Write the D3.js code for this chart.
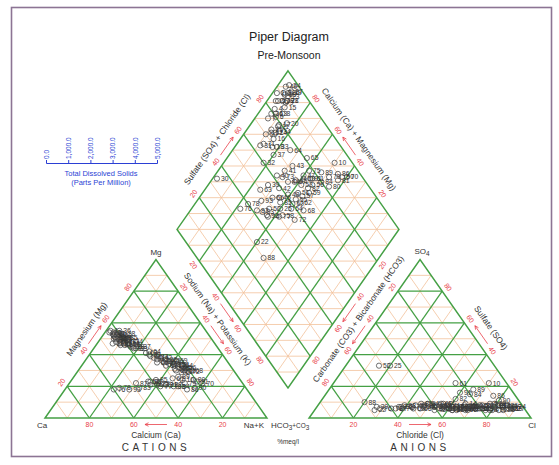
<!DOCTYPE html>
<html>
<head>
<meta charset="utf-8">
<script src="https://cdn.jsdelivr.net/npm/d3@7"></script>
<style>
  body { margin: 0; background: #fff; }
  svg { display: block; font-family: Arial, "Liberation Sans", sans-serif; }
</style>
</head>
<body>
<svg id="chart" width="559" height="465"></svg>
<script>
// Sample numbers and their ionic compositions (% meq/l).
// Calcium and chloride are the remainders of each 100% closure.
const sampleIds = [
  49, 19, 21, 50, 71, 30, 1, 2, 3, 4, 5, 6, 7, 8, 9, 11, 12, 13, 14, 15,
  16, 17, 18, 20, 23, 24, 26, 27, 28, 29, 31, 32, 33, 34, 35, 36, 37, 38,
  75, 68, 39, 40, 41, 42, 43, 44, 45, 46, 47, 48, 51, 53, 54, 55, 56, 57,
  58, 59, 60, 62, 63, 64, 65, 66, 67, 69, 72, 73,
  70, 80, 76, 22, 88, 52, 25, 61, 10, 74, 77, 78, 79, 81, 82, 83, 84, 85,
  86, 87, 89, 90, 91, 92, 93
];
const magnesium = [
  53, 51, 50, 48, 47, 54, 55, 54, 53, 53, 52, 51, 50, 50, 49, 49, 48, 48, 47, 47,
  46, 46, 45, 45, 52, 52, 50, 50, 53, 47, 46, 44, 44, 48, 51, 55, 45, 51,
  34, 30, 40, 39, 38, 38, 37, 36, 36, 35, 35, 34, 34, 33, 33, 32, 32, 31,
  31, 30, 30, 29, 41, 42, 37, 35, 33, 36, 29, 39,
  22, 24, 18, 21, 20, 23, 22, 25, 24, 21, 20, 19, 22, 23, 21, 19, 20, 24,
  18, 22, 26, 19, 21, 23, 18
];
const sodiumPotassium = [
  4, 8, 9, 10, 12, 2, 2, 4, 5, 6, 5, 9, 6, 11, 9, 13, 12, 8, 14, 10,
  15, 13, 17, 16, 8, 5, 7, 8, 9, 7, 11, 18, 19, 15, 11, 6, 20, 6,
  41, 51, 27, 28, 30, 33, 32, 35, 38, 36, 40, 39, 43, 42, 45, 44, 47, 46,
  43, 48, 44, 47, 25, 26, 36, 33, 38, 41, 50, 31,
  60, 55, 22, 40, 48, 35, 40, 45, 50, 37, 42, 24, 52, 57, 46, 33, 50, 38,
  55, 30, 47, 58, 44, 36, 29
];
const sulfate = [
  7, 6, 8, 7, 6, 7, 5, 6, 8, 5, 9, 6, 7, 5, 8, 6, 7, 6, 9, 7,
  6, 8, 5, 7, 6, 7, 8, 6, 5, 9, 6, 7, 6, 7, 8, 6, 5, 7,
  6, 8, 7, 6, 8, 5, 7, 9, 6, 7, 5, 8, 6, 7, 9, 6, 7, 5,
  8, 6, 7, 9, 6, 7, 8, 6, 7, 5, 8, 7,
  6, 8, 6, 5, 10, 33, 33, 22, 22, 6, 7, 6, 5, 8, 12, 7, 15, 9,
  14, 6, 18, 11, 16, 7, 8
];
const bicarbonate = [
  6, 6, 10, 30, 34, 66, 12, 15, 9, 18, 14, 20, 24, 16, 11, 22, 27, 19, 25, 13,
  28, 21, 31, 17, 8, 4, 7, 5, 10, 12, 36, 40, 29, 23, 26, 21, 33, 9,
  22, 37, 45, 38, 33, 41, 28, 35, 31, 44, 26, 39, 34, 30, 42, 37, 25, 33,
  48, 29, 40, 36, 50, 24, 19, 47, 32, 27, 44, 36,
  7, 18, 65, 68, 70, 52, 47, 23, 8, 55, 50, 60, 15, 12, 28, 56, 20, 45,
  10, 58, 17, 9, 24, 55, 53
];
const percentTicks = [20, 40, 60, 80];
const tdsTicks = [0, 1000, 2000, 3000, 4000, 5000];

// Layout: unit-side ternary space, two triangles separated by a gap,
// squeezed vertically into the available height.
const GAP = 0.19;
const H = Math.sqrt(3) / 2;
const X = d3.scaleLinear().domain([0, 2 + GAP]).range([45, 531]);
const Y = d3.scaleLinear().domain([0, H]).range([418, 259.5]);

const GREEN = "#45a045", ORANGE = "#f3c29a", RED = "#e8404a", BLUE = "#2b3fd4", INK = "#333";

const svg = d3.select("#chart");
svg.append("rect").attr("x", 11.5).attr("y", 7.5).attr("width", 540).attr("height", 449)
  .attr("fill", "#fff").attr("stroke", "#8c7494").attr("stroke-width", 1.6);

const lerp = (a, b, t) => [a[0] + (b[0] - a[0]) * t, a[1] + (b[1] - a[1]) * t];
const px = u => [X(u[0]), Y(u[1])];

const cat = { ca: [0, 0], nak: [1, 0], mg: [0.5, H] };
const an = { hco3: [1 + GAP, 0], cl: [2 + GAP, 0], so4: [1.5 + GAP, H] };
const dm = {
  top: [1 + GAP / 2, 2 * H + GAP * H], left: [0.5 + GAP / 2, H + GAP * H],
  right: [1.5 + GAP / 2, H + GAP * H], bottom: [1 + GAP / 2, GAP * H]
};

const gridOrange = [], gridGreen = [];
function triangleGrid(A, B, C) {
  for (let k = 1; k <= 9; k++) {
    const f = k / 10, dest = k % 2 ? gridOrange : gridGreen;
    dest.push([lerp(A, C, f), lerp(B, C, f)]);
    dest.push([lerp(A, B, f), lerp(B, C, 1 - f)]);
    dest.push([lerp(A, B, f), lerp(A, C, f)]);
  }
}
triangleGrid(cat.ca, cat.nak, cat.mg);
triangleGrid(an.hco3, an.cl, an.so4);
for (let k = 1; k <= 9; k++) {
  const f = k / 10, dest = k % 2 ? gridOrange : gridGreen;
  dest.push([lerp(dm.top, dm.right, f), lerp(dm.left, dm.bottom, f)]);
  dest.push([lerp(dm.top, dm.left, f), lerp(dm.right, dm.bottom, f)]);
}
for (let k = 1; k <= 19; k++) {
  const t = k / 10;
  if (t <= 1) gridOrange.push([lerp(dm.bottom, dm.left, t), lerp(dm.bottom, dm.right, t)]);
  else gridOrange.push([lerp(dm.left, dm.top, t - 1), lerp(dm.right, dm.top, t - 1)]);
}

const gl = svg.append("g");
gl.selectAll(".o").data(gridOrange).join("line")
  .attr("x1", d => X(d[0][0])).attr("y1", d => Y(d[0][1]))
  .attr("x2", d => X(d[1][0])).attr("y2", d => Y(d[1][1]))
  .attr("stroke", ORANGE).attr("stroke-width", 0.8);
gl.selectAll(".g").data(gridGreen).join("line")
  .attr("x1", d => X(d[0][0])).attr("y1", d => Y(d[0][1]))
  .attr("x2", d => X(d[1][0])).attr("y2", d => Y(d[1][1]))
  .attr("stroke", GREEN).attr("stroke-width", 1.3);

const outline = d3.line().x(d => X(d[0])).y(d => Y(d[1]));
[[cat.ca, cat.nak, cat.mg], [an.hco3, an.cl, an.so4], [dm.top, dm.right, dm.bottom, dm.left]]
  .forEach(poly => gl.append("path").attr("d", outline(poly) + "Z")
    .attr("fill", "none").attr("stroke", GREEN).attr("stroke-width", 1.5));

// Edge decorations: percentage labels, direction arrow, axis title
function edge(p0u, p1u, inside, opt) {
  const p0 = px(p0u), p1 = px(p1u), c = px(inside);
  const len = Math.hypot(p1[0] - p0[0], p1[1] - p0[1]);
  const d = [(p1[0] - p0[0]) / len, (p1[1] - p0[1]) / len];
  let n = [-d[1], d[0]];
  const mid = [(p0[0] + p1[0]) / 2, (p0[1] + p1[1]) / 2];
  if (n[0] * (mid[0] - c[0]) + n[1] * (mid[1] - c[1]) < 0) n = [-n[0], -n[1]];
  let ang = Math.atan2(d[1], d[0]) * 180 / Math.PI;
  if (ang > 90) ang -= 180; if (ang < -90) ang += 180;
  const off = opt.labelOff ?? 7;
  const g = svg.append("g");
  g.selectAll("text").data(percentTicks).join("text")
    .attr("transform", v => {
      const q = [p0[0] + (p1[0] - p0[0]) * v / 100 + n[0] * off,
                 p0[1] + (p1[1] - p0[1]) * v / 100 + n[1] * off];
      return `translate(${q[0]},${q[1]}) rotate(${ang})`;
    })
    .attr("text-anchor", "middle").attr("dy", "0.35em")
    .attr("font-size", 7).attr("fill", RED).text(v => v);
  // arrow pointing toward increasing percentage
  const a0 = [mid[0] - d[0] * 11 + n[0] * off, mid[1] - d[1] * 11 + n[1] * off];
  const a1 = [mid[0] + d[0] * 11 + n[0] * off, mid[1] + d[1] * 11 + n[1] * off];
  const rot = (v, s) => [v[0] * Math.cos(s) - v[1] * Math.sin(s), v[0] * Math.sin(s) + v[1] * Math.cos(s)];
  const h1 = rot([-d[0], -d[1]], 0.45), h2 = rot([-d[0], -d[1]], -0.45);
  g.append("path")
    .attr("d", `M${a0}L${a1}M${a1[0] + h1[0] * 4},${a1[1] + h1[1] * 4}L${a1}L${a1[0] + h2[0] * 4},${a1[1] + h2[1] * 4}`)
    .attr("fill", "none").attr("stroke", RED).attr("stroke-width", 0.8);
  if (opt.title) {
    const t = opt.titleOff ?? 18;
    g.append("text")
      .attr("transform", `translate(${mid[0] + n[0] * t},${mid[1] + n[1] * t}) rotate(${ang})`)
      .attr("text-anchor", "middle").attr("dy", "0.35em")
      .attr("font-size", 8.5).attr("fill", INK).text(opt.title);
  }
}
const cCat = [0.5, H / 3], cAn = [1.5 + GAP, H / 3], cDm = [1 + GAP / 2, H + GAP * H];
edge(cat.nak, cat.ca, cCat, { title: null, labelOff: 6.5 });
edge(cat.ca, cat.mg, cCat, { title: "Magnesium (Mg)", titleOff: 17 });
edge(cat.mg, cat.nak, cCat, {});
edge(an.hco3, an.cl, cAn, { title: null, labelOff: 6.5 });
edge(an.cl, an.so4, cAn, { title: "Sulfate (SO4)", titleOff: 19 });
edge(an.so4, an.hco3, cAn, {});
edge(dm.left, dm.top, cDm, { title: "Sulfate (SO4) + Chloride (Cl)", titleOff: 19 });
edge(dm.right, dm.top, cDm, { title: "Calcium (Ca) + Magnesium (Mg)", titleOff: 19 });
edge(dm.left, dm.bottom, cDm, { title: "Sodium (Na) + Potassium (K)" });
edge(dm.right, dm.bottom, cDm, { title: "Carbonate (CO3) + Bicarbonate (HCO3)" });

// Vertex names and base titles
function label(xp, yp, parts, size, anchor = "middle") {
  const t = svg.append("text").attr("x", xp).attr("y", yp).attr("text-anchor", anchor)
    .attr("font-size", size).attr("fill", INK);
  parts.forEach(p => {
    const s = t.append("tspan").text(p[0]);
    if (p[1]) s.attr("font-size", size * 0.8).attr("dy", p[1]);
  });
  return t;
}
label(X(cat.mg[0]), Y(cat.mg[1]) - 5, [["Mg"]], 8);
label(X(cat.ca[0]) - 3, 428, [["Ca"]], 8);
label(X(cat.nak[0]) - 13, 428, [["Na+K"]], 8);
label(X(an.hco3[0]) - 19, 428, [["HCO"], ["3", 2], ["+CO", -2], ["3", 2]], 8);
label(X(an.cl[0]) + 1, 428, [["Cl"]], 8);
label(X(an.so4[0]) + 2, Y(an.so4[1]) - 6, [["SO"], ["4", 2]], 8);

const baseMidC = X(0.5), baseMidA = X(1.5 + GAP);
label(baseMidC, 438, [["Calcium (Ca)"]], 8.5);
label(baseMidA, 438, [["Chloride (Cl)"]], 8.5);
label(baseMidC, 451, [["CATIONS"]], 10).attr("letter-spacing", 3.5);
label(baseMidA, 451, [["ANIONS"]], 10).attr("letter-spacing", 3.5);
label(X(1 + GAP / 2), 444, [["%meq/l"]], 6.5);

svg.append("text").attr("x", 289).attr("y", 41).attr("text-anchor", "middle")
  .attr("font-size", 12.5).attr("fill", "#222").text("Piper Diagram");
svg.append("text").attr("x", 289).attr("y", 59).attr("text-anchor", "middle")
  .attr("font-size", 10.5).attr("fill", "#222").text("Pre-Monsoon");

// Total dissolved solids scale
const tds = d3.scaleLinear().domain([0, 5000]).range([46, 157]);
const tdsG = svg.append("g").attr("transform", "translate(0,163)")
  .call(d3.axisTop(tds).tickValues(tdsTicks).tickFormat(d3.format(",.1f")).tickSize(3).tickSizeOuter(3));
tdsG.select(".domain").attr("stroke", BLUE);
tdsG.selectAll(".tick line").attr("stroke", BLUE);
tdsG.selectAll(".tick text").attr("fill", BLUE).attr("font-size", 6.5)
  .attr("transform", "rotate(-90)").attr("x", 4).attr("y", 0).attr("dy", "0.35em")
  .attr("text-anchor", "start");
tdsG.attr("font-family", null);
svg.append("text").attr("x", 101).attr("y", 176).attr("text-anchor", "middle")
  .attr("font-size", 7.5).attr("fill", BLUE).text("Total Dissolved Solids");
svg.append("text").attr("x", 101).attr("y", 185).attr("text-anchor", "middle")
  .attr("font-size", 7.5).attr("fill", BLUE).text("(Parts Per Million)");

// Sample points in the three fields
const samples = sampleIds.map((id, i) => {
  const mg = magnesium[i] / 100, nak = sodiumPotassium[i] / 100;
  const so4 = sulfate[i] / 100, hco3 = bicarbonate[i] / 100;
  const cl = 1 - so4 - hco3;
  const cation = [nak + mg / 2, mg * H];
  const anion = [1 + GAP + cl + so4 / 2, so4 * H];
  const diamond = [dm.top[0] + nak * 0.5 - hco3 * 0.5, dm.top[1] - nak * H - hco3 * H];
  return { id, cation, anion, diamond };
});
const pts = svg.append("g");
["cation", "anion", "diamond"].forEach(key => {
  const g = pts.append("g");
  const s = g.selectAll("g").data(samples).join("g")
    .attr("transform", d => `translate(${X(d[key][0])},${Y(d[key][1])})`);
  s.append("circle").attr("r", 2.6).attr("fill", "none").attr("stroke", "#444").attr("stroke-width", 0.75);
  s.append("text").attr("x", 4).attr("dy", "0.35em").attr("font-size", 6.8).attr("fill", "#333")
    .text(d => d.id);
});
</script>
</body>
</html>
